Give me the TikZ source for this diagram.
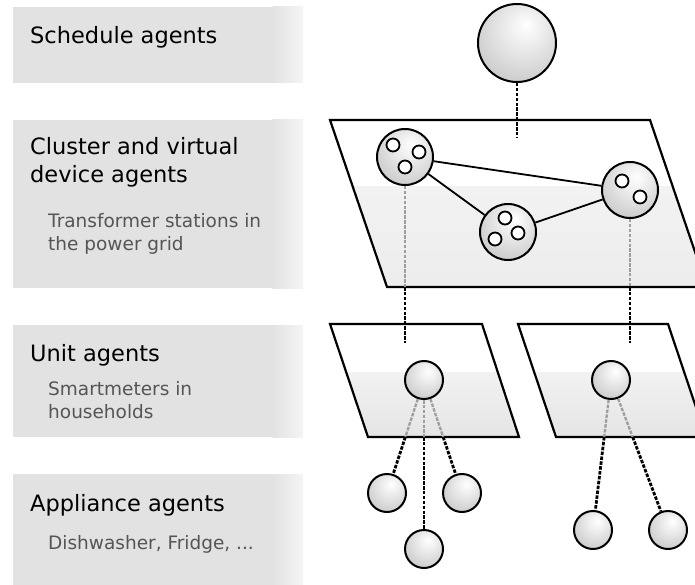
\documentclass[tikz,border=0pt]{standalone}
\usepackage{fontspec}
\setmainfont{DejaVu Sans}
\definecolor{boxgray}{HTML}{E2E2E2}
\definecolor{boxlight}{HTML}{F5F5F5}
\definecolor{subtext}{HTML}{555555}
\definecolor{bandtop}{HTML}{F2F2F2}
\definecolor{bandbot}{HTML}{E4E4E4}
\pgfdeclareradialshading{sphere}{\pgfpoint{6bp}{12bp}}{color(0bp)=(white); color(10bp)=(white!94!black); color(32bp)=(white!80!black); color(50bp)=(white!64!black); color(70bp)=(white!55!black)}
\tikzset{
  sph/.style={circle, draw=black, line width=2pt, shading=sphere, inner sep=0pt},
  hole/.style={circle, draw=black, line width=1.8pt, fill=white, inner sep=0pt, minimum size=13pt},
  blackdash/.style={draw=black, line width=2.8pt, dash pattern=on 3.5pt off 1.4pt},
  graydash/.style={draw=black!38, line width=2.3pt, dash pattern=on 3.5pt off 1.4pt},
  link/.style={draw=black, line width=1.8pt},
  layeredge/.style={draw=black, line width=2.2pt, line join=miter},
  heading/.style={anchor=base west, inner sep=0pt, align=left, font=\fontsize{22.5}{28}\selectfont},
  subhead/.style={anchor=base west, inner sep=0pt, align=left, text=subtext, font=\fontsize{18.5}{23}\selectfont}
}
\begin{document}
\begin{tikzpicture}[x=1pt,y=-1pt]
\useasboundingbox (0,0) rectangle (695,585);
% ---------- left gray label boxes ----------
\foreach \ya/\yb in {7/83, 120/288, 325/437, 474/585}{
  \fill[boxgray] (13,\ya) rectangle (273,\yb);
  \shade[left color=boxgray, right color=boxlight] (272.5,\ya) rectangle (303,\yb);
}
\node[heading] (h1) at (30,44) {Schedule agents};
\node[heading] (h2) at (30,183) {Cluster and virtual\\device agents};
\node[subhead] (s2) at (48,250) {Transformer stations in\\the power grid};
\node[heading] (h3) at (30,361) {Unit agents};
\node[subhead] (s3) at (48,418) {Smartmeters in\\households};
\node[heading] (h4) at (30,511) {Appliance agents};
\node[subhead] (s4) at (48,549) {Dishwasher, Fridge, ...};
% ---------- layers ----------
\coordinate (L1a) at (330,120); \coordinate (L1b) at (650,120);
\coordinate (L1c) at (707,287); \coordinate (L1d) at (387,287);
\coordinate (L2a) at (330,324); \coordinate (L2b) at (482,324);
\coordinate (L2c) at (519,437); \coordinate (L2d) at (368,437);
\coordinate (L3a) at (518,324); \coordinate (L3b) at (668,324);
\coordinate (L3c) at (706,437); \coordinate (L3d) at (556,437);
\foreach \L/\band in {L1/187, L2/372, L3/372}{
  \fill[white] (\L a) -- (\L b) -- (\L c) -- (\L d) -- cycle;
  \begin{scope}
    \clip (\L a) -- (\L b) -- (\L c) -- (\L d) -- cycle;
    \shade[top color=bandtop, bottom color=bandbot] (300,\band) rectangle (720,440);
  \end{scope}
  \draw[layeredge] (\L a) -- (\L b) -- (\L c) -- (\L d) -- cycle;
}
% ---------- nodes ----------
\node[sph, minimum size=78pt] (top) at (517,43) {};
\node[sph, minimum size=56pt] (A) at (405,157) {};
\node[sph, minimum size=56pt] (B) at (508,232) {};
\node[sph, minimum size=56pt] (C) at (630,190) {};
\node[sph, minimum size=38pt] (D) at (424,380) {};
\node[sph, minimum size=38pt] (E) at (611,380) {};
\node[sph, minimum size=38pt] (F) at (387,493) {};
\node[sph, minimum size=38pt] (G) at (462,493) {};
\node[sph, minimum size=38pt] (H) at (424,549) {};
\node[sph, minimum size=38pt] (I) at (593,530) {};
\node[sph, minimum size=38pt] (J) at (668,530) {};
% holes
\node[hole] (a1h) at (393,145) {};
\node[hole] (a2h) at (419,152) {};
\node[hole] (a3h) at (405,167) {};
\node[hole] (b1h) at (505,218) {};
\node[hole] (b2h) at (495,239) {};
\node[hole] (b3h) at (518,233) {};
\node[hole] (c1h) at (622,181) {};
\node[hole] (c2h) at (640,197) {};
% ---------- connectors ----------
\coordinate (t1) at (517,137);
\coordinate (a1) at (405,287); \coordinate (a2) at (405,343);
\coordinate (c1) at (630,287); \coordinate (c2) at (630,343);
\coordinate (df) at (intersection of D--F and L2c--L2d);
\coordinate (dg) at (intersection of D--G and L2c--L2d);
\coordinate (dh) at (intersection of D--H and L2c--L2d);
\coordinate (ei) at (intersection of E--I and L3c--L3d);
\coordinate (ej) at (intersection of E--J and L3c--L3d);
\draw[blackdash] (top) -- (t1);
\draw[graydash] (A) -- (a1);
\draw[blackdash] (a1) -- (a2);
\draw[graydash] (C) -- (c1);
\draw[blackdash] (c1) -- (c2);
\draw[graydash] (D) -- (df); \draw[blackdash] (df) -- (F);
\draw[graydash] (D) -- (dg); \draw[blackdash] (dg) -- (G);
\draw[graydash] (D) -- (dh); \draw[blackdash] (dh) -- (H);
\draw[graydash] (E) -- (ei); \draw[blackdash] (ei) -- (I);
\draw[graydash] (E) -- (ej); \draw[blackdash] (ej) -- (J);
\draw[link] (A) -- (C);
\draw[link] (A) -- (B);
\draw[link] (B) -- (C);
\end{tikzpicture}
\end{document}
